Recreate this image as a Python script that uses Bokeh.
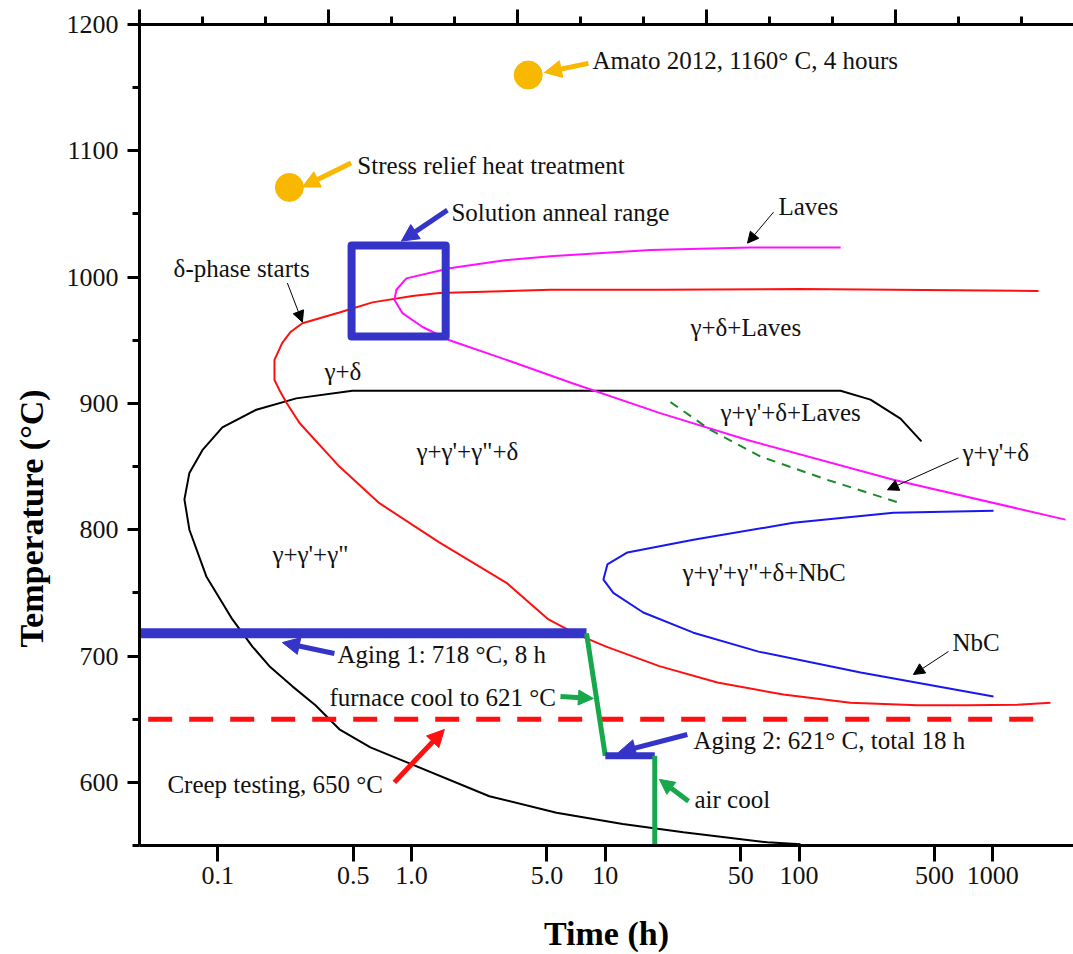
from bokeh.plotting import figure
from bokeh.models import (Range1d, LinearScale, LinearAxis, FixedTicker,
                          SingleIntervalTicker, Arrow, NormalHead, Title,
                          CustomLabelingPolicy)
from bokeh.core.properties import value
from bokeh.embed import file_html
from bokeh.resources import INLINE

# ---- axes -------------------------------------------------------------
TIME_TICKS = [0.1, 0.5, 1, 5, 10, 50, 100, 500, 1000]
TIME_TICK_LABELS = ["0.1", "0.5", "1.0", "5.0", "10", "50", "100", "500", "1000"]
TIME_MIN, TIME_MAX = 0.0394, 2611
TEMP_MIN, TEMP_MAX = 550, 1200

# ---- phase boundaries (time in h, temperature in degC) ------------------
gamma2_time = [428.5, 334, 233.7, 163.7, 0.495, 0.254, 0.158, 0.1055, 0.0832,
               0.0713, 0.0672, 0.0713, 0.0872, 0.1189, 0.1508, 0.1845, 0.2425,
               0.319, 0.424, 0.613, 0.94, 2.52, 5.6, 12.3, 25.3, 68.7, 101.7]
gamma2_temp = [870, 888, 903, 910, 910, 904, 895, 881, 863,
               845, 824, 800, 763, 729, 707.5, 692, 676,
               661, 642, 627.7, 616, 589, 576, 567, 560.5, 552.5, 551]

delta_time = [1722, 101.7, 19.0, 5.21, 1.39, 1.01, 0.628, 0.424, 0.273, 0.237,
              0.215, 0.196, 0.196, 0.208, 0.226, 0.264, 0.424, 0.682, 1.39, 3.09,
              5.09, 7.01, 10.1, 19.0, 37.9, 83, 184, 409, 740, 1342, 1987]
delta_temp = [989, 990.5, 990, 990, 987.5, 985, 980, 972, 963.5, 956.5,
              948, 934.5, 918.5, 910.5, 900.5, 884.5, 850, 821, 790, 758,
              729, 717.8, 707.5, 692, 679, 669.5, 663, 661, 661, 661.5, 663]

laves_time = [164, 56, 17.1, 5.21, 3.09, 1.57, 0.94, 0.835, 0.815, 0.897, 1.14,
              1.57, 3.09, 6.77, 19.0, 54.2, 307, 2374]
laves_temp = [1023.5, 1023.5, 1021.5, 1016.5, 1013.5, 1007, 999, 990, 982, 971.5,
              960.5, 950, 934.5, 916, 892.5, 871, 839.5, 808]

nbc_time = [1009, 307, 93.6, 28.5, 13.0, 10.25, 9.78, 11.0, 15.7, 28.5, 61.8, 208, 1009]
nbc_temp = [815, 813.5, 805.5, 792, 782, 772.5, 760.5, 750, 734.5, 718.5, 703.5, 687, 668]

gamma1_time = [21.7, 34.9, 63.2, 140, 334]
gamma1_temp = [901, 879, 858, 839.5, 821]

# ---- heat treatments ----------------------------------------------------
solution_time = [0.49, 1.5]
solution_temp = [953, 1025]
stress_relief = (0.234, 1071)
amato = (4, 1160)
aging1_temp, aging1_end = 718, 8
aging2_temp, aging2_span = 621, [10, 18]
creep_temp, creep_start, creep_end = 650, 0.0437, 1830

BLUE = "#3434c8"
GREEN = "#17a84c"
YELLOW = "#f8b800"
RED = "#ff1010"
SERIF = "Liberation Serif"

p = figure(width=1073, height=954, x_axis_type="log",
           x_range=(TIME_MIN, TIME_MAX), y_range=(TEMP_MIN, TEMP_MAX),
           output_backend="svg", toolbar_location=None,
           min_border_left=139, min_border_right=0,
           min_border_top=24, min_border_bottom=109)
p.outline_line_color = None
p.grid.visible = False
p.background_fill_color = "white"
p.border_fill_color = "white"

for ax in (p.xaxis[0], p.yaxis[0]):
    ax.axis_line_width = 3
    ax.major_tick_line_width = 3
    ax.minor_tick_line_width = 3
    ax.major_tick_in = 0
    ax.minor_tick_in = 0
    ax.major_label_text_font = SERIF
    ax.major_label_text_font_size = "26px"
    ax.major_label_text_color = "#111111"

xa = p.xaxis[0]
xa.ticker = FixedTicker(ticks=TIME_TICKS, minor_ticks=[])
xa.major_label_overrides = dict(zip(TIME_TICKS, TIME_TICK_LABELS))
xa.major_tick_out = 16
xa.major_label_standoff = 5
xa.axis_label = "Time (h)"
xa.axis_label_standoff = 28
xa.axis_label_text_font = SERIF
xa.axis_label_text_font_style = "bold"
xa.axis_label_text_font_size = "34px"
xa.axis_label_text_color = "#000000"

ya = p.yaxis[0]
ya.ticker = SingleIntervalTicker(interval=100, num_minor_ticks=2)
ya.major_tick_out = 12
ya.minor_tick_out = 7
ya.major_label_standoff = 9

# temperature title, anchored from the lower part of the frame
p.add_layout(Title(text="Temperature (°C)", align="left", offset=198,
                   vertical_align="top",
                   text_font=SERIF, text_font_style="bold", text_font_size="34px",
                   text_color="#000000", standoff=24), "left")

# unlabelled frame scale along the top edge
p.extra_x_ranges = {"frame_top": Range1d(0, 4.94)}
p.extra_x_scales = {"frame_top": LinearScale()}
top = LinearAxis(x_range_name="frame_top",
                 ticker=SingleIntervalTicker(interval=1, num_minor_ticks=3),
                 major_label_text_font_size="1px", major_label_standoff=0,
                 major_label_policy=CustomLabelingPolicy(
                     code="for (const i of indices) indices.unset(i)\nreturn indices"),
                 axis_line_width=3, major_tick_line_width=3, minor_tick_line_width=3,
                 major_tick_in=0, minor_tick_in=0, major_tick_out=15, minor_tick_out=8)
p.add_layout(top, "above")

# ---- phase boundary curves ---------------------------------------------
p.line(gamma2_time, gamma2_temp, line_color="black", line_width=2)
p.line(delta_time, delta_temp, line_color=RED, line_width=2)
p.line(laves_time, laves_temp, line_color="#ff10ff", line_width=2)
p.line(nbc_time, nbc_temp, line_color="#1818ee", line_width=2)
p.line(gamma1_time, gamma1_temp, line_color="#1c8a2a", line_width=2,
       line_dash="9 7")

# ---- heat treatment schedule -------------------------------------------
p.line([creep_start, creep_end], [creep_temp, creep_temp], line_color=RED,
       line_width=5, line_dash="24 17")
p.line([TIME_MIN, aging1_end], [aging1_temp, aging1_temp], line_color=BLUE,
       line_width=10)
p.line([aging1_end, aging2_span[0]], [aging1_temp, aging2_temp], line_color=GREEN,
       line_width=5)
p.line(aging2_span, [aging2_temp, aging2_temp], line_color=BLUE, line_width=7)
p.line([aging2_span[1], aging2_span[1]], [aging2_temp, TEMP_MIN], line_color=GREEN,
       line_width=5)
p.quad(left=[solution_time[0]], right=[solution_time[1]],
       bottom=[solution_temp[0]], top=[solution_temp[1]],
       fill_color=None, line_color=BLUE, line_width=8, line_join="round")
p.scatter([stress_relief[0], amato[0]], [stress_relief[1], amato[1]],
          size=28, fill_color=YELLOW, line_color=YELLOW)

# ---- labels -------------------------------------------------------------
labels = [
    (8.58, 1171.5, "Amato 2012, 1160° C, 4 hours"),
    (0.525, 1088.5, "Stress relief heat treatment"),
    (1.605, 1051.4, "Solution anneal range"),
    (78.3, 1056.1, "Laves"),
    (0.0591, 1007.1, "δ-phase starts"),
    (27.5, 960.5, "γ+δ+Laves"),
    (0.3548, 924.9, "γ+δ"),
    (39.3, 892.5, "γ+γ'+δ+Laves"),
    (1.059, 861.7, "γ+γ'+γ\"+δ"),
    (698, 860.9, "γ+γ'+δ"),
    (0.1912, 780.2, "γ+γ'+γ\""),
    (25.0, 766.0, "γ+γ'+γ\"+δ+NbC"),
    (619.6, 710.7, "NbC"),
    (0.414, 701.2, "Aging 1: 718 °C, 8 h"),
    (0.3764, 667.2, "furnace cool to 621 °C"),
    (0.0549, 598.4, "Creep testing, 650 °C"),
    (28.5, 633.2, "Aging 2: 621° C, total 18 h"),
    (28.85, 586.6, "air cool"),
]
p.text(x=[l[0] for l in labels], y=[l[1] for l in labels], text=[l[2] for l in labels],
       text_font=value(SERIF), text_font_size="25px", text_color="#111111",
       text_align="left", text_baseline="middle")

# ---- arrows -------------------------------------------------------------
def arrow(x0, y0, x1, y1, color, width, head):
    p.add_layout(Arrow(end=NormalHead(size=head, fill_color=color, line_color=color,
                                      line_width=1),
                       x_start=x0, y_start=y0, x_end=x1, y_end=y1,
                       line_color=color, line_width=width))

arrow(8.18, 1169.2, 4.85, 1162, YELLOW, 5, 17)
arrow(0.4873, 1090.4, 0.273, 1071.4, YELLOW, 5, 17)
arrow(1.531, 1053, 0.886, 1028.5, BLUE, 5, 17)
arrow(0.3996, 702, 0.2153, 710.7, BLUE, 5, 17)
arrow(26.5, 637.9, 11.69, 623.7, BLUE, 5, 17)
arrow(5.87, 668.0, 8.68, 666.4, GREEN, 5, 15)
arrow(26.9, 585, 19.0, 602.4, GREEN, 5, 15)
arrow(0.815, 600.0, 1.477, 641.9, RED, 5, 17)
arrow(73.8, 1051.4, 54.2, 1026.9, "black", 1, 11)
arrow(0.2285, 995.3, 0.273, 964.4, "black", 1, 11)
arrow(665, 856.9, 286, 831.6, "black", 1, 11)
arrow(590.8, 703.6, 389.5, 685.4, "black", 1, 11)

open("out.html", "w").write(file_html(p, INLINE))
